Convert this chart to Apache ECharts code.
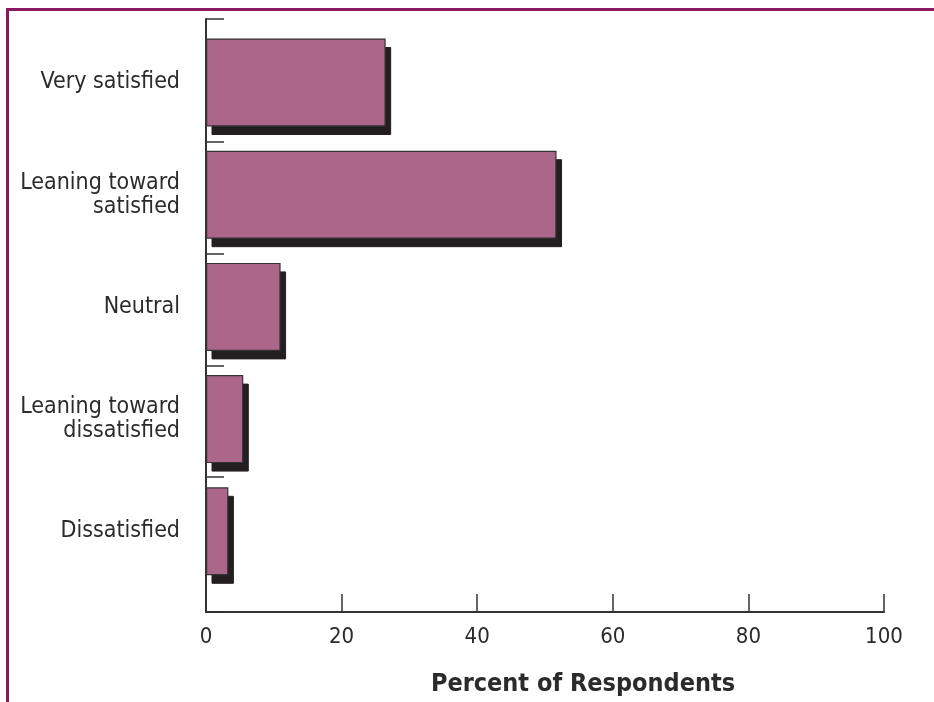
<!DOCTYPE html>
<html>
<head>
<meta charset="utf-8">
<script src="https://cdn.jsdelivr.net/npm/echarts@6/dist/echarts.min.js"></script>
<style>
  html, body { margin: 0; padding: 0; background: #ffffff; }
  #chart { width: 934px; height: 702px; }
</style>
</head>
<body>
<div id="chart"></div>
<script>
// Satisfaction ratings, top to bottom
const categories = [
  'Very satisfied',
  'Leaning toward\nsatisfied',
  'Neutral',
  'Leaning toward\ndissatisfied',
  'Dissatisfied'
];
// Percent of respondents per rating
const percents = [26.5, 51.7, 11.0, 5.5, 3.3];
// Value-axis ticks
const xTicks = [0, 20, 40, 60, 80, 100];

const FONT = '"Liberation Sans Narrow", "DejaVu Sans Condensed", "Liberation Sans", sans-serif';
const INK = '#2b2b2b';
const AXIS = '#333333';
const FRAME = '#8c1a5f';
const BAR = '#ab668a';
const SHADOW = '#231f20';

// plot width shared by every grid so all value scales agree
const PLOT_W = 678;
const BAND_TOP = 26.4;
const BAND_H = 561;
const GAP = '21.6%';

const chart = echarts.init(document.getElementById('chart'), null, { renderer: 'canvas' });

const option = {
  animation: false,
  backgroundColor: '#ffffff',
  grid: [
    // frame of the value axis and the left axis line
    { left: 206, width: PLOT_W, top: 19, bottom: 90, outerBoundsMode: 'none', containLabel: false },
    // band area holding the bars
    { left: 206, width: PLOT_W, top: BAND_TOP, height: BAND_H, outerBoundsMode: 'none', containLabel: false },
    // band separators between the ratings
    { left: 206, width: PLOT_W, top: 142, height: 335, outerBoundsMode: 'none', containLabel: false },
    // drop shadows, offset down and to the right of the bars
    { left: 211.5, width: PLOT_W, top: BAND_TOP + 8.5, height: BAND_H, outerBoundsMode: 'none', containLabel: false }
  ],
  xAxis: [
    {
      gridIndex: 0,
      type: 'value',
      min: xTicks[0],
      max: xTicks[xTicks.length - 1],
      interval: xTicks[1] - xTicks[0],
      axisLine: { show: true, lineStyle: { color: AXIS, width: 2 } },
      axisTick: { show: true, inside: true, length: 18, lineStyle: { color: AXIS, width: 1.5 } },
      axisLabel: { show: true, margin: 14, color: INK, fontFamily: FONT, fontSize: 22 },
      splitLine: { show: false },
      name: 'Percent of Respondents',
      nameLocation: 'middle',
      nameGap: 60,
      nameTextStyle: {
        color: INK, fontFamily: FONT, fontSize: 25, fontWeight: 'bold',
        padding: [0, 0, 0, 76]
      }
    },
    { gridIndex: 1, type: 'value', min: 0, max: 100, show: false },
    { gridIndex: 2, type: 'value', min: 0, max: 100, show: false },
    { gridIndex: 3, type: 'value', min: 0, max: 100, show: false }
  ],
  yAxis: [
    {
      gridIndex: 0,
      type: 'value',
      min: 0, max: 1, interval: 1,
      axisLine: { show: true, lineStyle: { color: AXIS, width: 2 } },
      axisTick: { show: true, inside: true, length: 18, lineStyle: { color: AXIS, width: 1.5 } },
      axisLabel: { show: false },
      splitLine: { show: false }
    },
    {
      gridIndex: 1,
      type: 'category',
      inverse: true,
      data: categories,
      axisLine: { show: false },
      axisTick: { show: false },
      axisLabel: {
        margin: 26,
        color: INK,
        fontFamily: FONT,
        fontSize: 23,
        lineHeight: 24,
        align: 'right'
      }
    },
    {
      gridIndex: 2,
      type: 'value',
      inverse: true,
      min: 1, max: 4, interval: 1,
      axisLine: { show: false },
      axisTick: { show: true, inside: true, length: 18, lineStyle: { color: AXIS, width: 1.5 } },
      axisLabel: { show: false },
      splitLine: { show: false }
    },
    {
      gridIndex: 3,
      type: 'category',
      inverse: true,
      data: categories,
      show: false
    }
  ],
  series: [
    {
      // shadow layer drawn first
      type: 'bar',
      xAxisIndex: 3,
      yAxisIndex: 3,
      data: percents,
      barCategoryGap: GAP,
      z: 1,
      itemStyle: { color: SHADOW, borderColor: SHADOW, borderWidth: 1 },
      emphasis: { disabled: true },
      silent: true
    },
    {
      type: 'bar',
      xAxisIndex: 1,
      yAxisIndex: 1,
      data: percents,
      barCategoryGap: GAP,
      z: 2,
      itemStyle: { color: BAR, borderColor: '#333333', borderWidth: 1.2 },
      emphasis: { disabled: true }
    }
  ],
  graphic: [
    // maroon frame along the top and left edges
    {
      type: 'rect',
      shape: { x: 7, y: 8, width: 940, height: 3 },
      style: { fill: FRAME },
      silent: true
    },
    {
      type: 'rect',
      shape: { x: 6, y: 8, width: 3, height: 710 },
      style: { fill: FRAME },
      silent: true
    }
  ]
};

chart.setOption(option);
</script>
</body>
</html>
